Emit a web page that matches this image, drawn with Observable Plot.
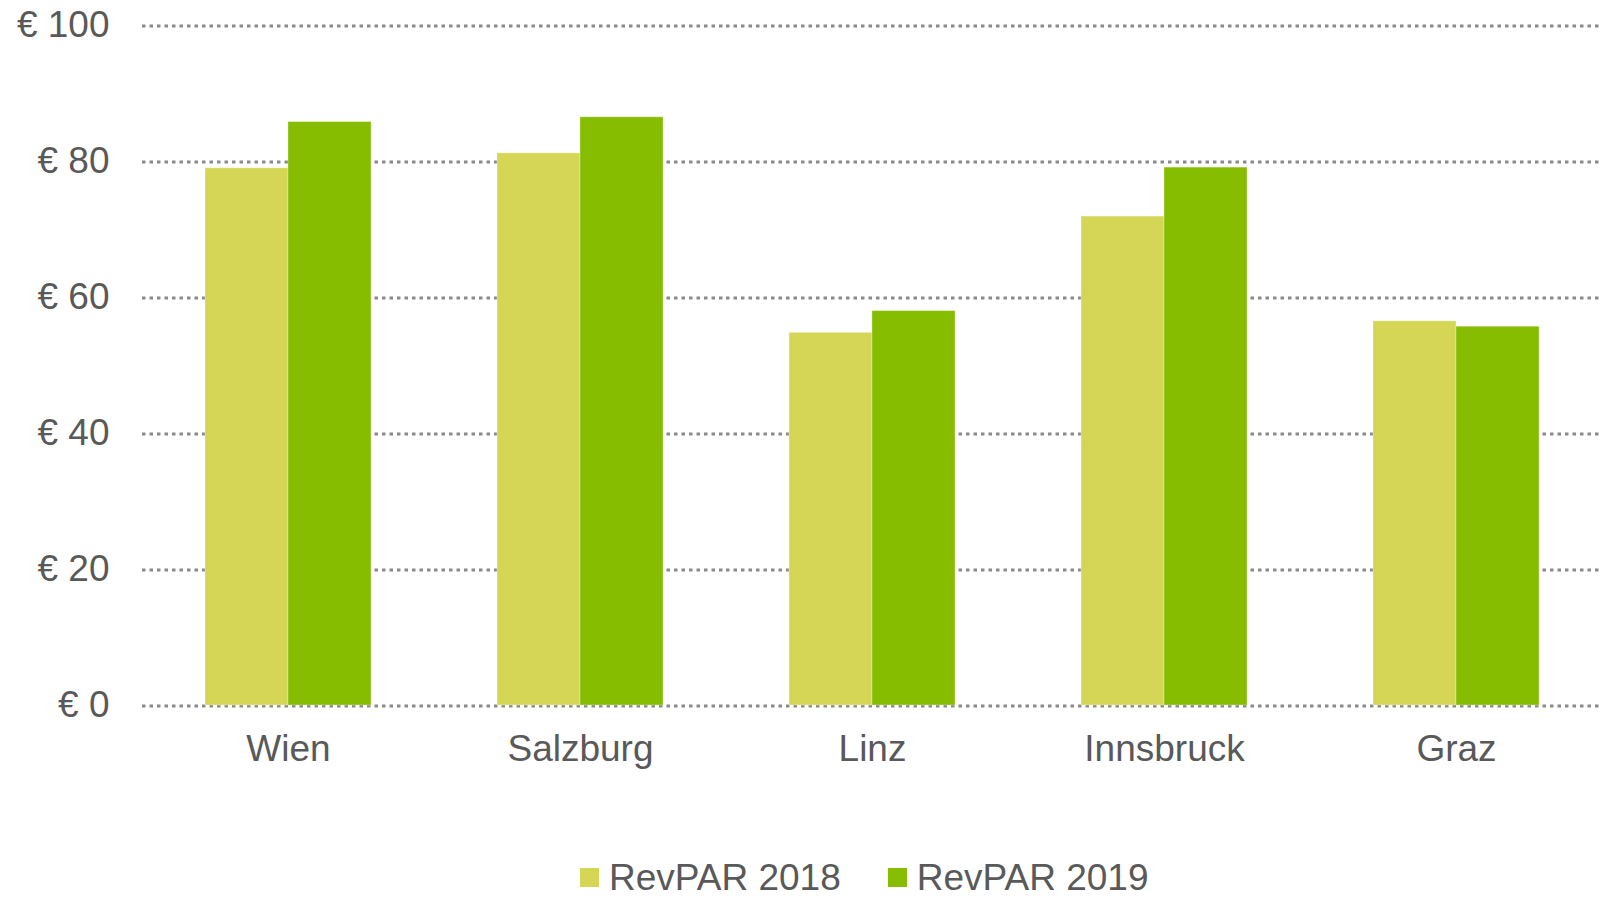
<!DOCTYPE html>
<html>
<head>
<meta charset="utf-8">
<script src="https://cdn.jsdelivr.net/npm/d3@7"></script>
<script src="https://cdn.jsdelivr.net/npm/@observablehq/plot@0.6"></script>
<style>
  html, body { margin: 0; padding: 0; background: #ffffff; }
  #wrap { position: relative; width: 1602px; height: 899px; overflow: hidden; font-family: "Liberation Sans", Arial, sans-serif; }
  #legend { position: absolute; left: 580px; top: 859px; display: flex; align-items: center; font-size: 37px; color: #595959; white-space: nowrap; line-height: 37px; }
  #legend .item { display: flex; align-items: center; margin-right: 47px; }
  #legend .sw { width: 19px; height: 19px; margin-right: 10px; }
</style>
</head>
<body>
<div id="wrap"><div id="chart"></div><div id="legend"></div></div>
<script>
const cities = ["Wien", "Salzburg", "Linz", "Innsbruck", "Graz"];
const revpar2018 = [79.0, 81.2, 54.8, 71.9, 56.5];
const revpar2019 = [85.8, 86.5, 58.0, 79.1, 55.7];
const seriesNames = ["RevPAR 2018", "RevPAR 2019"];
const seriesColors = ["#d6d656", "#86bd00"];
const yTicks = [0, 20, 40, 60, 80, 100];

const data = cities.flatMap((c, i) => [
  {city: c, series: seriesNames[0], value: revpar2018[i]},
  {city: c, series: seriesNames[1], value: revpar2019[i]}
]);

const chart = Plot.plot({
  width: 1602,
  height: 850,
  marginLeft: 141,
  marginRight: 0,
  marginTop: 25,
  marginBottom: 145,
  style: {fontFamily: "'Liberation Sans', Arial, sans-serif", fontSize: "37px", color: "#595959", background: "#ffffff", overflow: "visible"},
  fx: {domain: cities, padding: 0, label: null, axis: "bottom", tickSize: 0, tickPadding: 29},
  x: {domain: seriesNames, paddingInner: 0, paddingOuter: 0.746, axis: null},
  y: {domain: [0, 100], ticks: yTicks, tickFormat: d => "€ " + d, tickSize: 0, tickPadding: 33, label: null},
  color: {domain: seriesNames, range: seriesColors},
  marks: [
    Plot.ruleY(yTicks, {stroke: "#8a8a8a", strokeWidth: 3, strokeDasharray: "3.5,4", dy: 0.5}),
    Plot.barY(data, {fx: "city", x: "series", y: "value", fill: "series", stroke: "#ffffff", strokeOpacity: 0.3, strokeWidth: 1})
  ]
});
document.getElementById("chart").appendChild(chart);

const legend = document.getElementById("legend");
seriesNames.forEach((name, i) => {
  const item = document.createElement("div");
  item.className = "item";
  const sw = document.createElement("div");
  sw.className = "sw";
  sw.style.background = seriesColors[i];
  const label = document.createElement("span");
  label.textContent = name;
  item.appendChild(sw);
  item.appendChild(label);
  legend.appendChild(item);
});
</script>
</body>
</html>
